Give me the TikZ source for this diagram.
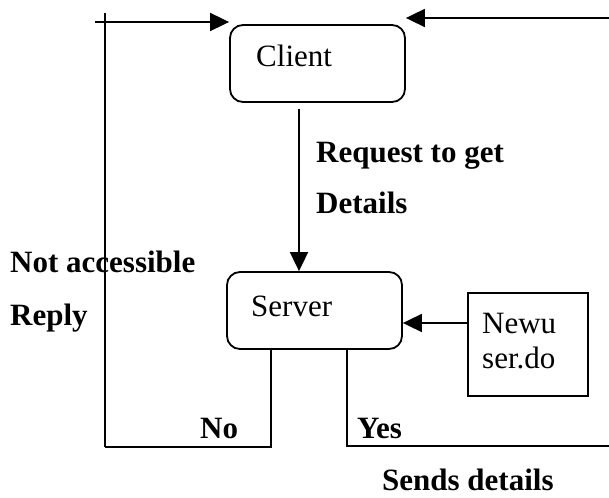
\documentclass[tikz,border=0pt]{standalone}
\usepackage{fontspec}
\setmainfont{Liberation Serif}
\usetikzlibrary{arrows.meta}

\tikzset{
  wire/.style={line width=1.8pt},
  flow/.style={wire, -{Triangle[length=19pt,width=18pt]}},
  roundbox/.style={draw, line width=1.8pt, rounded corners=13pt, inner sep=0pt,
    minimum width=175pt, minimum height=77pt},
  squarebox/.style={draw, line width=1.6pt, inner sep=0pt,
    minimum width=120pt, minimum height=103pt},
  boxtext/.style={anchor=base west, inner sep=0pt, font=\fontsize{31}{36}\selectfont},
  flowlabel/.style={anchor=base west, inner sep=0pt, font=\fontsize{31}{36}\selectfont\bfseries},
}

\begin{document}
\begin{tikzpicture}[x=1pt, y=-1pt]
\useasboundingbox (0,0) rectangle (609,497);

% boxes
\node[roundbox] (client) at (317.5,63.5) {};
\node[roundbox] (server) at (314.5,310.5) {};
\node[squarebox] (newuser) at (528,344.5) {};

% box captions
\node[boxtext] (clienttxt) at (256,67) {Client};
\node[boxtext] (servertxt) at (251,316) {Server};
\node[boxtext] (newu) at (482,333) {Newu};
\node[boxtext] (serdo) at (482,368) {ser.do};

% request from client to server
\coordinate (reqtop) at (299,109);
\draw[flow] (reqtop) -- (reqtop |- server.north);
\node[flowlabel] (req1) at (316,162) {Request to get};
\node[flowlabel] (req2) at (316,213) {Details};

% new user registration feeds the server
\draw[flow] (newuser.west |- 0,323) -- (server.east |- 0,323);

% reply loop (left side)
\coordinate (noout) at (271,349);
\coordinate (nocorner) at (271,447);
\coordinate (leftbot) at (105,447);
\coordinate (lefttop) at (105,13);
\coordinate (topstart) at (95,22);
\draw[wire] (noout) -- (nocorner) -- (leftbot);
\draw[wire] (leftbot) -- (lefttop);
\draw[flow] (topstart) -- (client.west |- topstart);
\node[flowlabel] (notacc) at (10,272) {Not accessible};
\node[flowlabel] (reply) at (10,325) {Reply};
\node[flowlabel] (no) at (200,438) {No};

% details loop (right side)
\coordinate (yesout) at (347,349);
\coordinate (yescorner) at (347,446);
\coordinate (rightbot) at (609,446);
\coordinate (righttop) at (609,18);
\draw[wire] (yesout) -- (yescorner) -- (rightbot);
\draw[flow] (righttop) -- (client.east |- righttop);
\node[flowlabel] (yes) at (357,438) {Yes};
\node[flowlabel] (sends) at (382,490) {Sends details};
\end{tikzpicture}
\end{document}
